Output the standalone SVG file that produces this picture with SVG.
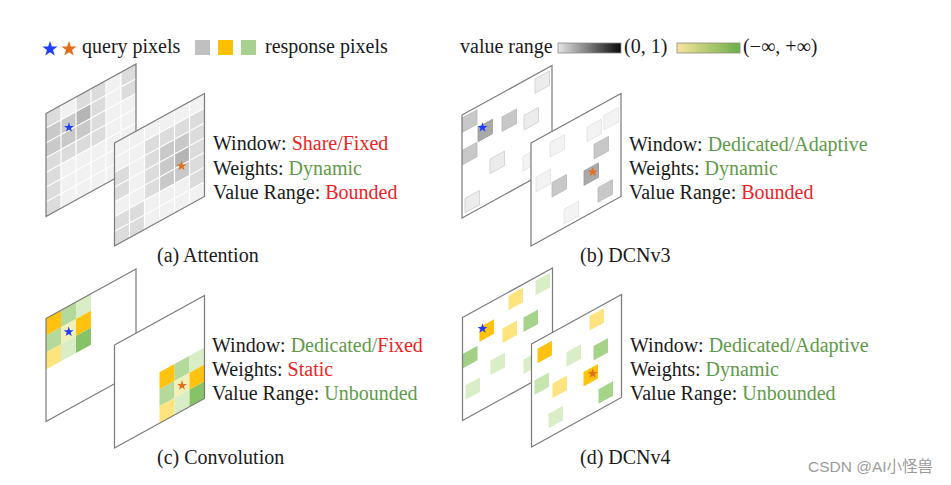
<svg xmlns="http://www.w3.org/2000/svg" width="951" height="485" viewBox="0 0 951 485">
<defs>
<style>
.t{font-family:"Liberation Serif","Times New Roman",serif;font-size:20px;fill:#1a1a1a}
.r{fill:#ee2424}
.g{fill:#5f9a4a}
.pb{fill:none;stroke:#7a7a7a;stroke-width:1.2;vector-effect:non-scaling-stroke}
.wh{fill:#fff}
.ab{fill:#f1f1f1}
.gl{fill:none;stroke:#fff;stroke-width:1.2;vector-effect:non-scaling-stroke}
.s1{fill:#dcdcdc}.s2{fill:#c9c9c9}.s3{fill:#b5b5b5}
.c{vector-effect:non-scaling-stroke;stroke-width:0.8}
.dk{fill:#a9a9a9;stroke:#9a9a9a}
.md{fill:#c8c8c8;stroke:#b9b9b9}
.lt{fill:#ececec;stroke:#cdcdcd}
.vl{fill:#f3f3f3;stroke:#e1e1e1}
.go{fill:#ffc20e}
.ly{fill:#fde47f}
.lg{fill:#b5d99a}
.vg{fill:#d9eec7}
.gr{fill:#86c266}
.cy{fill:#f1f0b8}
.bs{fill:#1f3cff}
.os{fill:#e26d1d}
.bar{stroke:#8a8a8a;stroke-width:0.8}
.wm{font-family:"Liberation Sans","Noto Sans CJK SC",sans-serif;font-size:15.5px;fill:#9c9c9c}
</style>
<path id="st" d="M0,-1L0.235,-0.309L0.951,-0.309L0.38,0.124L0.588,0.809L0,0.4L-0.588,0.809L-0.38,0.124L-0.951,-0.309L-0.235,-0.309Z"/>
<linearGradient id="gg" x1="0" y1="0" x2="1" y2="0"><stop offset="0" stop-color="#e6e6e6"/><stop offset="1" stop-color="#0a0a0a"/></linearGradient>
<linearGradient id="yg" x1="0" y1="0" x2="1" y2="0"><stop offset="0" stop-color="#f8e49c"/><stop offset="1" stop-color="#6aae48"/></linearGradient>
<path id="agrid" d="M15,0V103M30,0V103M45,0V103M60,0V103M75,0V103M0,14.714H90M0,29.429H90M0,44.143H90M0,58.857H90M0,73.571H90M0,88.286H90"/>
</defs>
<rect width="951" height="485" fill="#fff"/>

<g id="legend">
<use href="#st" class="bs" transform="translate(50,49) scale(8)"/>
<use href="#st" class="os" transform="translate(69,49) scale(8)"/>
<text class="t" x="82" y="52.5">query pixels</text>
<rect x="195" y="40" width="15" height="15" fill="#c0c0c0"/>
<rect x="218" y="40" width="15" height="15" fill="#ffc000"/>
<rect x="241" y="40" width="15" height="15" fill="#a9d18e"/>
<text class="t" x="265" y="52.5">response pixels</text>
<text class="t" x="460" y="52.5">value range</text>
<rect class="bar" x="558" y="43" width="63" height="10" fill="url(#gg)"/>
<text class="t" x="624" y="52.5">(0, 1)</text>
<rect class="bar" x="677" y="43" width="63" height="10" fill="url(#yg)"/>
<text class="t" x="743" y="52.5">(−∞, +∞)</text>
</g>

<g id="attention">
<g transform="matrix(1,-0.55,0,1,46,113.5)">
<rect class="ab" width="90" height="103"/>
<rect class="s1" x="0" y="0" width="15" height="14.714"/>
<rect class="s2" x="0" y="14.714" width="15" height="14.714"/>
<rect class="s2" x="0" y="29.429" width="15" height="14.714"/>
<rect class="s1" x="0" y="44.143" width="15" height="14.714"/>
<rect class="s1" x="0" y="58.857" width="15" height="14.714"/>
<rect class="s1" x="0" y="73.571" width="15" height="14.714"/>
<rect class="s1" x="0" y="88.286" width="15" height="14.714"/>
<rect class="s2" x="15" y="14.714" width="15" height="14.714"/>
<rect class="s2" x="15" y="29.429" width="15" height="14.714"/>
<rect class="s1" x="15" y="44.143" width="15" height="14.714"/>
<rect class="s1" x="30" y="0" width="15" height="14.714"/>
<rect class="s3" x="30" y="14.714" width="15" height="14.714"/>
<rect class="s2" x="30" y="29.429" width="15" height="14.714"/>
<rect class="s1" x="30" y="44.143" width="15" height="14.714"/>
<rect class="s1" x="45" y="0" width="15" height="14.714"/>
<rect class="s1" x="45" y="14.714" width="15" height="14.714"/>
<rect class="s1" x="45" y="29.429" width="15" height="14.714"/>
<rect class="s1" x="45" y="44.143" width="15" height="14.714"/>
<rect class="s1" x="75" y="0" width="15" height="14.714"/>
<rect class="s1" x="75" y="14.714" width="15" height="14.714"/>
<use href="#agrid" class="gl"/>
<rect class="pb" width="90" height="103"/>
</g>
<use href="#st" class="bs" transform="translate(69,127.5) scale(5.2)"/>
<g transform="matrix(1,-0.55,0,1,114.5,143)">
<rect class="ab" width="90" height="103"/>
<rect class="s1" x="0" y="29.429" width="15" height="14.714"/>
<rect class="s1" x="0" y="44.143" width="15" height="14.714"/>
<rect class="s1" x="0" y="73.571" width="15" height="14.714"/>
<rect class="s1" x="0" y="88.286" width="15" height="14.714"/>
<rect class="s1" x="15" y="73.571" width="15" height="14.714"/>
<rect class="s1" x="15" y="88.286" width="15" height="14.714"/>
<rect class="s1" x="30" y="14.714" width="15" height="14.714"/>
<rect class="s1" x="30" y="29.429" width="15" height="14.714"/>
<rect class="s1" x="30" y="44.143" width="15" height="14.714"/>
<rect class="s1" x="30" y="58.857" width="15" height="14.714"/>
<rect class="s1" x="45" y="14.714" width="15" height="14.714"/>
<rect class="s2" x="45" y="29.429" width="15" height="14.714"/>
<rect class="s2" x="45" y="44.143" width="15" height="14.714"/>
<rect class="s2" x="45" y="58.857" width="15" height="14.714"/>
<rect class="s1" x="60" y="14.714" width="15" height="14.714"/>
<rect class="s2" x="60" y="29.429" width="15" height="14.714"/>
<rect class="s3" x="60" y="44.143" width="15" height="14.714"/>
<rect class="s2" x="60" y="58.857" width="15" height="14.714"/>
<rect class="s1" x="75" y="14.714" width="15" height="14.714"/>
<rect class="s1" x="75" y="29.429" width="15" height="14.714"/>
<rect class="s1" x="75" y="44.143" width="15" height="14.714"/>
<rect class="s1" x="75" y="58.857" width="15" height="14.714"/>
<rect class="s1" x="75" y="73.571" width="15" height="14.714"/>
<use href="#agrid" class="gl"/>
<rect class="pb" width="90" height="103"/>
</g>
<use href="#st" class="os" transform="translate(181.5,166) scale(5.2)"/>
<text class="t" x="213" y="150">Window: <tspan class="r">Share/Fixed</tspan></text>
<text class="t" x="213" y="174.5">Weights: <tspan class="g">Dynamic</tspan></text>
<text class="t" x="213" y="199">Value Range: <tspan class="r">Bounded</tspan></text>
<text class="t" x="157" y="262">(a) Attention</text>
</g>

<g id="dcnv3">
<g transform="matrix(1,-0.55,0,1,462,115)">
<rect class="wh" width="90" height="103"/>
<rect class="c md" x="0.5" y="3" width="14.5" height="14.5"/>
<rect class="c dk" x="16" y="21" width="14.5" height="14.5"/>
<rect class="c md" x="40" y="24" width="14.5" height="14.5"/>
<rect class="c lt" x="62" y="34.5" width="14.5" height="14.5"/>
<rect class="c md" x="0.5" y="35.5" width="14.5" height="14.5"/>
<rect class="c lt" x="28" y="59.5" width="14.5" height="14.5"/>
<rect class="c vl" x="61" y="75" width="14.5" height="14.5"/>
<rect class="c lt" x="3" y="85" width="14.5" height="14.5"/>
<rect class="c lt" x="73" y="4" width="14.5" height="14.5"/>
<rect class="pb" width="90" height="103"/>
</g>
<use href="#st" class="bs" transform="translate(482.5,127.5) scale(5.2)"/>
<g transform="matrix(1,-0.55,0,1,531,143)">
<rect class="wh" width="90" height="103"/>
<rect class="c vl" x="19" y="10" width="14.5" height="14.5"/>
<rect class="c vl" x="56" y="15" width="14.5" height="14.5"/>
<rect class="c vl" x="73" y="12.5" width="14.5" height="14.5"/>
<rect class="c md" x="63" y="36" width="14.5" height="14.5"/>
<rect class="c dk" x="53" y="57" width="14.5" height="14.5"/>
<rect class="c vl" x="5" y="37" width="14.5" height="14.5"/>
<rect class="c md" x="21" y="51" width="14.5" height="14.5"/>
<rect class="c md" x="67" y="81.5" width="14.5" height="14.5"/>
<rect class="c vl" x="33" y="84.5" width="14.5" height="14.5"/>
<rect class="pb" width="90" height="103"/>
</g>
<use href="#st" class="os" transform="translate(592.7,172) scale(5.2)"/>
<text class="t" x="629" y="151">Window: <tspan class="g">Dedicated/Adaptive</tspan></text>
<text class="t" x="629" y="175">Weights: <tspan class="g">Dynamic</tspan></text>
<text class="t" x="629" y="199">Value Range: <tspan class="r">Bounded</tspan></text>
<text class="t" x="580" y="262">(b) DCNv3</text>
</g>

<g id="convolution">
<g transform="matrix(1,-0.55,0,1,46,318.5)">
<rect class="wh" width="90" height="103"/>
<rect class="go" x="0" y="0" width="15" height="17"/>
<rect class="lg" x="0" y="17" width="15" height="17"/>
<rect class="ly" x="0" y="34" width="15" height="17"/>
<rect class="lg" x="15" y="0" width="15" height="17"/>
<rect class="cy" x="15" y="17" width="15" height="17"/>
<rect class="vg" x="15" y="34" width="15" height="17"/>
<rect class="vg" x="30" y="0" width="15" height="17"/>
<rect class="go" x="30" y="17" width="15" height="17"/>
<rect class="gr" x="30" y="34" width="15" height="17"/>
<rect class="pb" width="90" height="103"/>
</g>
<use href="#st" class="bs" transform="translate(68.7,331.8) scale(5.2)"/>
<g transform="matrix(1,-0.55,0,1,114.5,345)">
<rect class="wh" width="90" height="103"/>
<rect class="go" x="45" y="52" width="15" height="17"/>
<rect class="lg" x="45" y="69" width="15" height="17"/>
<rect class="ly" x="45" y="86" width="15" height="17"/>
<rect class="lg" x="60" y="52" width="15" height="17"/>
<rect class="cy" x="60" y="69" width="15" height="17"/>
<rect class="vg" x="60" y="86" width="15" height="17"/>
<rect class="vg" x="75" y="52" width="15" height="17"/>
<rect class="go" x="75" y="69" width="15" height="17"/>
<rect class="gr" x="75" y="86" width="15" height="17"/>
<rect class="pb" width="90" height="103"/>
</g>
<use href="#st" class="os" transform="translate(182,385.5) scale(5.2)"/>
<text class="t" x="212" y="351.5">Window: <tspan class="g">Dedicated/</tspan><tspan class="r">Fixed</tspan></text>
<text class="t" x="212" y="376">Weights: <tspan class="r">Static</tspan></text>
<text class="t" x="212" y="400">Value Range: <tspan class="g">Unbounded</tspan></text>
<text class="t" x="157" y="464">(c) Convolution</text>
</g>

<g id="dcnv4">
<g transform="matrix(1,-0.55,0,1,462.5,317.5)">
<rect class="wh" width="90" height="103"/>
<rect class="go" x="17" y="19" width="14.5" height="14.5"/>
<rect class="ly" x="46" y="3.5" width="14.5" height="14.5"/>
<rect class="vg" x="73" y="3.5" width="14.5" height="14.5"/>
<rect class="ly" x="40" y="33" width="14.5" height="14.5"/>
<rect class="lg" x="61" y="33.5" width="14.5" height="14.5" style="fill:#a6d38a"/>
<rect class="lg" x="0.5" y="36.5" width="14.5" height="14.5" style="fill:#a3d087"/>
<rect class="vg" x="28" y="58.5" width="14.5" height="14.5"/>
<rect class="vg" x="61" y="75.5" width="14.5" height="14.5"/>
<rect class="vg" x="3" y="69.5" width="14.5" height="14.5"/>
<rect class="pb" width="90" height="103"/>
</g>
<use href="#st" class="bs" transform="translate(482.5,328.5) scale(5.2)"/>
<g transform="matrix(1,-0.55,0,1,531.5,344)">
<rect class="wh" width="90" height="103"/>
<rect class="go" x="6" y="8" width="14.5" height="14.5"/>
<rect class="ly" x="58" y="4" width="14.5" height="14.5"/>
<rect class="vg" x="35" y="27.5" width="14.5" height="14.5"/>
<rect class="lg" x="62" y="36" width="14.5" height="14.5" style="fill:#a6d38a"/>
<rect class="lg" x="3" y="38" width="14.5" height="14.5" style="fill:#c6e5b0"/>
<rect class="ly" x="21" y="51" width="14.5" height="14.5"/>
<rect class="go" x="52" y="56.5" width="14.5" height="14.5"/>
<rect class="lg" x="67" y="82" width="14.5" height="14.5" style="fill:#a6d38a"/>
<rect class="vg" x="17" y="79" width="14.5" height="14.5"/>
<rect class="pb" width="90" height="103"/>
</g>
<use href="#st" class="os" transform="translate(592.7,373.5) scale(5.2)"/>
<text class="t" x="630" y="351.5">Window: <tspan class="g">Dedicated/Adaptive</tspan></text>
<text class="t" x="630" y="376">Weights: <tspan class="g">Dynamic</tspan></text>
<text class="t" x="630" y="400">Value Range: <tspan class="g">Unbounded</tspan></text>
<text class="t" x="580" y="464">(d) DCNv4</text>
</g>

<text class="wm" x="808" y="472">CSDN @AI小怪兽</text>
</svg>
